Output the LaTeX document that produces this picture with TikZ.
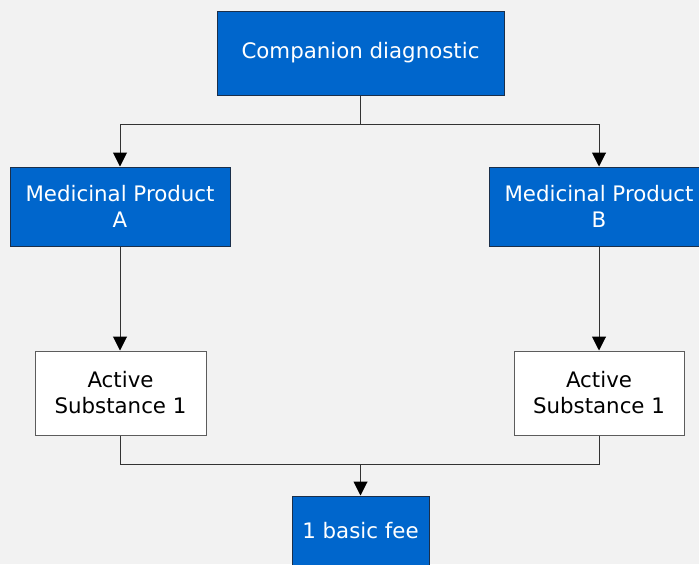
\documentclass[tikz,border=0pt]{standalone}
\usepackage{fontspec}
\setmainfont{DejaVu Sans}
\usetikzlibrary{arrows.meta, positioning}
\definecolor{canvas}{HTML}{F2F2F2}
\definecolor{fblue}{HTML}{0066CC}
\definecolor{fedge}{HTML}{1B2F4A}
\definecolor{wire}{HTML}{333333}
\tikzset{
  bluebox/.style={draw=fedge, fill=fblue, text=white, line width=0.75pt, inner sep=0pt, align=center,
     font=\fontsize{16}{19.5}\selectfont},
  whitebox/.style={draw=wire!80, fill=white, text=black, line width=0.75pt, inner sep=0pt, align=center,
     font=\fontsize{16}{19.5}\selectfont},
  wirel/.style={draw=wire, line width=0.75pt},
  arr/.style={wirel, -{Triangle[length=10.5pt, width=10.5pt, color=black]}}}

\begin{document}
\begin{tikzpicture}[x=0.75pt, y=-0.75pt]
  \useasboundingbox[fill=canvas] (0,0) rectangle (699,564);
  % boxes
  \node[bluebox, minimum width=215.25pt, minimum height=63pt] (comp) at (360.5,53) {Companion diagnostic};
  \node[bluebox, minimum width=165pt, minimum height=59.25pt] (mpa) at (120,206.5) {Medicinal Product\\A};
  \node[bluebox, minimum width=165pt, minimum height=59.25pt] (mpb) at (599,206.5) {Medicinal Product\\B};
  \node[whitebox, minimum width=128.25pt, minimum height=63pt] (asa) at (120.5,393) {Active\\Substance 1};
  \node[whitebox, minimum width=127.5pt, minimum height=63pt] (asb) at (599,393) {Active\\Substance 1};
  \node[bluebox, minimum width=102.75pt, minimum height=52.5pt] (fee) at (360.5,531) {1 basic fee};
  % connectors
  \coordinate (split) at (360.5,124);
  \coordinate (join) at (360.5,464);
  \draw[wirel] (comp.south) -- (split);
  \draw[arr] (split) -| (mpa.north);
  \draw[arr] (split) -| (mpb.north);
  \draw[arr] (mpa.south) -- (asa.north -| mpa.south);
  \draw[arr] (mpb.south) -- (asb.north);
  \draw[wirel] (asa.south) |- (join);
  \draw[wirel] (asb.south) |- (join);
  \draw[arr] (join) -- (fee.north);
\end{tikzpicture}
\end{document}
